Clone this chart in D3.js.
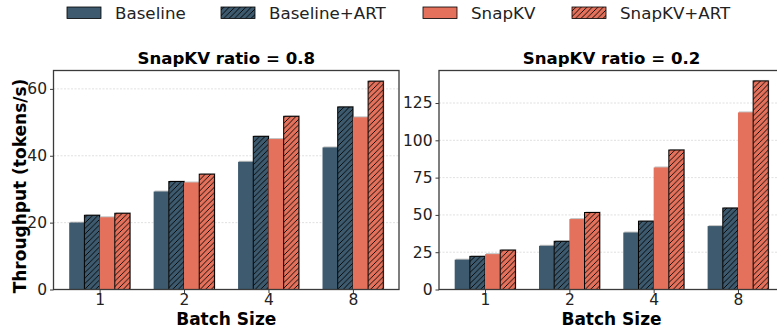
<!DOCTYPE html>
<html>
<head>
<meta charset="utf-8">
<script src="https://cdn.jsdelivr.net/npm/d3@7"></script>
<style>
  body { margin: 0; background: #fff; }
  svg { display: block; font-family: "DejaVu Sans", sans-serif; }
</style>
</head>
<body>
<svg id="chart" width="777" height="328"></svg>
<script>
// data
var batchSizes = ["1", "2", "4", "8"];
var seriesNames = ["Baseline", "Baseline+ART", "SnapKV", "SnapKV+ART"];
var baseline = [20.0, 29.3, 38.2, 42.5];
var baselineArt = [22.2, 32.3, 45.8, 54.6];
var snapkv08 = [21.6, 32.0, 45.0, 51.5];
var snapkvArt08 = [22.8, 34.5, 51.8, 62.3];
var snapkv02 = [23.7, 47.2, 81.8, 118.7];
var snapkvArt02 = [26.4, 51.6, 93.5, 139.8];
var yTicks08 = [0, 20, 40, 60];
var yTicks02 = [0, 25, 50, 75, 100, 125];

var colBase = "#3d5a6e";
var colSnap = "#e4715b";
var fills = [colBase, colBase, colSnap, colSnap];
var hatched = [false, true, false, true];

var svg = d3.select("#chart");
var defs = svg.append("defs");

function hatchPattern(id, color) {
  var p = defs.append("pattern")
    .attr("id", id)
    .attr("patternUnits", "userSpaceOnUse")
    .attr("width", 5.5).attr("height", 5.5);
  p.append("rect").attr("width", 5.5).attr("height", 5.5).attr("fill", color);
  p.append("path")
    .attr("d", "M-1,1 L1,-1 M0,5.5 L5.5,0 M4.5,6.5 L6.5,4.5")
    .attr("stroke", "#000").attr("stroke-width", 0.9);
}
hatchPattern("hatchBase", colBase);
hatchPattern("hatchSnap", colSnap);

function barFill(i) {
  if (!hatched[i]) return fills[i];
  return i < 2 ? "url(#hatchBase)" : "url(#hatchSnap)";
}

var barW = 0.18;

function drawPanel(cfg) {
  var x = d3.scaleLinear().domain([-0.546, 3.546]).range([cfg.left, cfg.right]);
  var y = d3.scaleLinear().domain([0, cfg.ymax]).range([cfg.bottom, cfg.top]);
  var g = svg.append("g");

  // grid
  g.selectAll(".grid").data(cfg.ticks.slice(1)).enter().append("line")
    .attr("x1", cfg.left).attr("x2", cfg.right)
    .attr("y1", function(d) { return y(d); }).attr("y2", function(d) { return y(d); })
    .attr("stroke", "#d8d8d8").attr("stroke-width", 0.8)
    .attr("stroke-dasharray", "2,1.5");

  var bw = x(barW) - x(0);
  cfg.series.forEach(function(vals, si) {
    var off = (si - 1.5) * barW;
    var grp = g.append("g");
    // soft shadow
    grp.selectAll(".sh").data(vals).enter().append("rect")
      .attr("x", function(d, i) { return x(i + off) - bw / 2 + 1; })
      .attr("y", function(d) { return y(d) - 1; })
      .attr("width", bw)
      .attr("height", function(d) { return y(0) - y(d); })
      .attr("fill", "#777").attr("opacity", 0.45);
    grp.selectAll(".bar").data(vals).enter().append("rect")
      .attr("x", function(d, i) { return x(i + off) - bw / 2; })
      .attr("y", function(d) { return y(d); })
      .attr("width", bw)
      .attr("height", function(d) { return y(0) - y(d); })
      .attr("fill", barFill(si))
      .attr("stroke", hatched[si] ? "#000" : "none")
      .attr("stroke-width", 1);
  });

  // frame
  g.append("rect")
    .attr("x", cfg.left).attr("y", cfg.top)
    .attr("width", cfg.right - cfg.left).attr("height", cfg.bottom - cfg.top)
    .attr("fill", "none").attr("stroke", "#3a3a3a").attr("stroke-width", 1.3);

  var ya = g.append("g").attr("transform", "translate(" + cfg.left + ",0)")
    .call(d3.axisLeft(y).tickValues(cfg.ticks).tickSize(3.5).tickPadding(3));
  ya.select(".domain").remove();
  ya.selectAll("text").attr("font-size", 15.5).attr("fill", "#222").attr("font-family", "DejaVu Sans");
  ya.selectAll("line").attr("stroke", "#3a3a3a");

  var xa = g.append("g").attr("transform", "translate(0," + cfg.bottom + ")")
    .call(d3.axisBottom(x).tickValues([0, 1, 2, 3])
      .tickFormat(function(d) { return batchSizes[d]; }).tickSize(3.5).tickPadding(1));
  xa.select(".domain").remove();
  xa.selectAll("text").attr("font-size", 15.5).attr("fill", "#222").attr("font-family", "DejaVu Sans");
  xa.selectAll("line").attr("stroke", "#3a3a3a");

  var cx = (cfg.left + cfg.right) / 2;
  g.append("text").attr("x", cx).attr("y", 64)
    .attr("text-anchor", "middle").attr("font-size", 16.6).attr("font-weight", "bold")
    .text(cfg.title);
  g.append("text").attr("x", cx).attr("y", 325)
    .attr("text-anchor", "middle").attr("font-size", 17).attr("font-weight", "bold")
    .text("Batch Size");
}

drawPanel({
  left: 53.5, right: 399, top: 70.5, bottom: 289.5,
  ymax: 65.5, ticks: yTicks08, title: "SnapKV ratio = 0.8",
  series: [baseline, baselineArt, snapkv08, snapkvArt08]
});
drawPanel({
  left: 439, right: 784, top: 70.5, bottom: 289.5,
  ymax: 146.8, ticks: yTicks02, title: "SnapKV ratio = 0.2",
  series: [baseline, baselineArt, snapkv02, snapkvArt02]
});

// y label
svg.append("text")
  .attr("transform", "translate(26,186) rotate(-90)")
  .attr("text-anchor", "middle").attr("font-size", 17).attr("font-weight", "bold")
  .text("Throughput (tokens/s)");

// legend
var legX = [67, 221, 423, 572];
var leg = svg.append("g");
seriesNames.forEach(function(name, i) {
  leg.append("rect")
    .attr("x", legX[i]).attr("y", 7).attr("width", 34).attr("height", 11.5)
    .attr("fill", barFill(i)).attr("stroke", "#000").attr("stroke-width", 0.8);
  leg.append("text")
    .attr("x", legX[i] + 48).attr("y", 18.5)
    .attr("font-size", 16.7).attr("fill", "#222")
    .text(name);
});
</script>
</body>
</html>
